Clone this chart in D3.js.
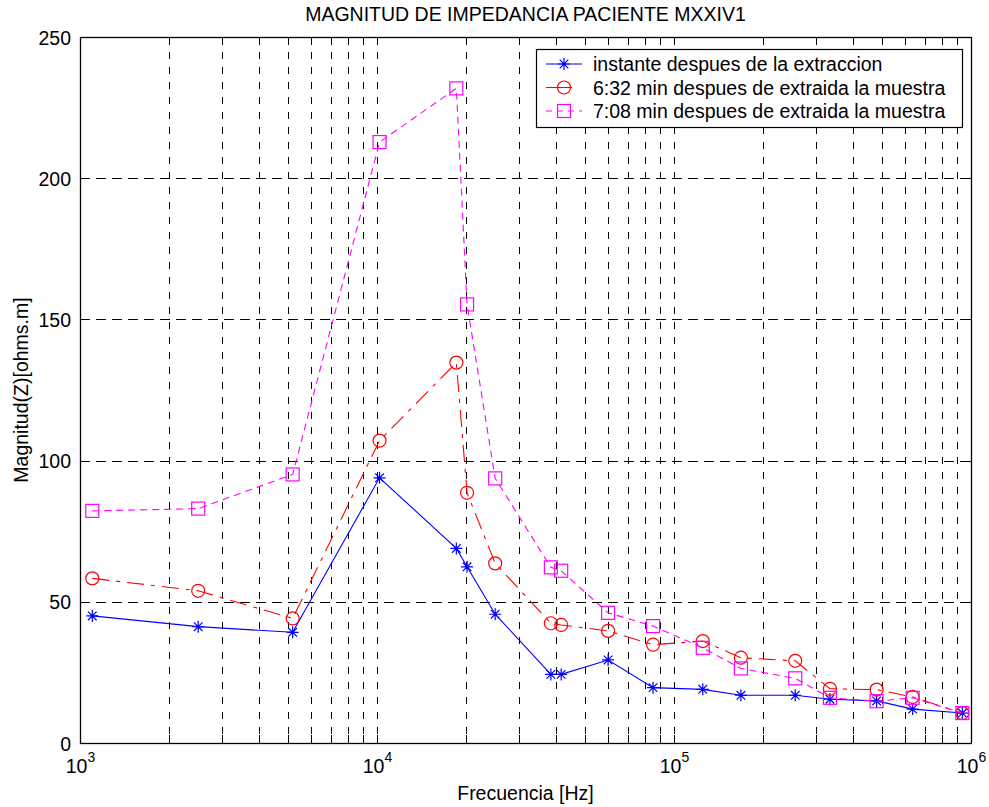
<!DOCTYPE html>
<html>
<head>
<meta charset="utf-8">
<script src="https://cdn.jsdelivr.net/npm/d3@7"></script>
<style>
  html, body { margin: 0; padding: 0; background: #fff; }
  svg { display: block; font-family: "Liberation Sans", Arial, Helvetica, sans-serif; }
</style>
</head>
<body>
<svg id="chart" width="989" height="807"></svg>
<script>
// Measurement frequencies (Hz)
const frequencies = [1100, 2500, 5200, 10200, 18500, 20100, 25000, 38500, 41700,
  60000, 85000, 125000, 168000, 256000, 335000, 481000, 636000, 935000];

// Impedance magnitude (ohms.m) for each sample time
const instante = [45.0, 41.2, 39.2, 93.9, 68.9, 62.4, 45.6, 24.3, 24.3,
  29.4, 19.6, 19.0, 16.9, 16.9, 15.5, 14.9, 12.0, 10.6];
const min632 = [58.3, 53.9, 44.1, 107.1, 134.7, 88.6, 63.6, 42.4, 41.8,
  39.7, 34.8, 36.1, 30.2, 29.1, 19.2, 18.9, 16.3, 10.6];
const min708 = [82.2, 83.0, 95.1, 212.8, 231.8, 155.3, 93.7, 62.2, 61.0,
  46.1, 41.4, 33.7, 26.4, 22.9, 16.0, 14.8, 16.0, 10.6];

const seriesNames = [
  "instante despues de la extraccion",
  "6:32 min despues de extraida la muestra",
  "7:08 min despues de extraida la muestra"
];

const yTicks = [0, 50, 100, 150, 200, 250];
const xMajorExponents = [3, 4, 5, 6];

const titleText = "MAGNITUD DE IMPEDANCIA PACIENTE MXXIV1";
const xLabelText = "Frecuencia [Hz]";
const yLabelText = "Magnitud(Z)[ohms.m]";

// ---- layout ----
const margin = { left: 80, top: 37, right: 18, bottom: 64 };
const W = 989, H = 807;
const plotW = W - margin.left - margin.right;
const plotH = H - margin.top - margin.bottom;
const FONT = 19.5;

const svg = d3.select("#chart");
const g = svg.append("g").attr("transform", `translate(${margin.left},${margin.top})`);

const x = d3.scaleLog().domain([1e3, 1e6]).range([0, plotW]);
const y = d3.scaleLinear().domain([0, 250]).range([plotH, 0]);

// all decade subdivisions (2..9 x 10^k) plus majors
const majorVals = xMajorExponents.map(e => Math.pow(10, e));
const minorVals = [];
for (let e = 3; e < 6; e++) for (let m = 2; m <= 9; m++) minorVals.push(m * Math.pow(10, e));
const allX = majorVals.concat(minorVals);

// ---- grid ----
const grid = g.append("g").attr("stroke", "#000").attr("stroke-width", 1).attr("fill", "none");
grid.selectAll("line.vg").data(allX.filter(v => v > 1e3 && v < 1e6)).join("line")
  .attr("class", "vg")
  .attr("x1", d => Math.round(x(d)) + 0.5).attr("x2", d => Math.round(x(d)) + 0.5)
  .attr("y1", 0).attr("y2", plotH)
  .attr("stroke-dasharray", "7,8");
grid.selectAll("line.hg").data(yTicks.filter(v => v > 0 && v < 250)).join("line")
  .attr("class", "hg")
  .attr("x1", 0).attr("x2", plotW)
  .attr("y1", d => Math.round(y(d)) + 0.5).attr("y2", d => Math.round(y(d)) + 0.5)
  .attr("stroke-dasharray", "10,6");

// ---- axes ----
const xAxis = d3.axisBottom(x).tickValues(majorVals).tickSize(0).tickPadding(0).tickFormat("");
const xg = g.append("g").attr("transform", `translate(0,${plotH})`).call(xAxis);
xg.select(".domain").remove();
xg.selectAll(".tick").each(function(d) {
  const t = d3.select(this).append("text")
    .attr("fill", "#000").attr("y", 30).attr("text-anchor", "middle")
    .style("font-size", FONT + "px");
  t.append("tspan").text("10");
  t.append("tspan").attr("dy", -11).style("font-size", "14px").text(String(Math.round(Math.log10(d))));
});

const yAxis = d3.axisLeft(y).tickValues(yTicks).tickSize(0).tickPadding(9);
const yg = g.append("g").call(yAxis);
yg.select(".domain").remove();
yg.selectAll("text").style("font-size", FONT + "px").attr("fill", "#000").attr("dy", "0.36em");

// inward tick marks on all four sides
const ticks = g.append("g").attr("stroke", "#000").attr("stroke-width", 1);
allX.forEach(v => {
  const px = Math.round(x(v)) + 0.5;
  ticks.append("line").attr("x1", px).attr("x2", px).attr("y1", plotH).attr("y2", plotH - 8);
  ticks.append("line").attr("x1", px).attr("x2", px).attr("y1", 0).attr("y2", 8);
});
yTicks.forEach(v => {
  const py = Math.round(y(v)) + 0.5;
  ticks.append("line").attr("x1", 0).attr("x2", 9).attr("y1", py).attr("y2", py);
  ticks.append("line").attr("x1", plotW).attr("x2", plotW - 9).attr("y1", py).attr("y2", py);
});

// axes box
g.append("rect").attr("x", 0.5).attr("y", 0.5).attr("width", plotW).attr("height", plotH)
  .attr("fill", "none").attr("stroke", "#000").attr("stroke-width", 1.3);

// ---- series ----
const starPath = "M-6,0H6M0,-6V6M-4.3,-4.3L4.3,4.3M-4.3,4.3L4.3,-4.3";
const series = [
  { name: seriesNames[0], values: instante, color: "#0000ff", dash: null, legendDash: null, marker: "star" },
  { name: seriesNames[1], values: min632, color: "#ff0000", dash: "17,7,4,7", legendDash: "26,30", marker: "circle" },
  { name: seriesNames[2], values: min708, color: "#ff00ff", dash: "7,5", legendDash: "6,5", marker: "square" }
];

function drawMarker(sel, type, color) {
  if (type === "star") {
    sel.append("path").attr("d", starPath).attr("stroke", color).attr("stroke-width", 1.2).attr("fill", "none");
  } else if (type === "circle") {
    sel.append("circle").attr("r", 6.5).attr("stroke", color).attr("stroke-width", 1.2).attr("fill", "none");
  } else {
    sel.append("rect").attr("x", -6.5).attr("y", -6.5).attr("width", 13).attr("height", 13)
      .attr("stroke", color).attr("stroke-width", 1.2).attr("fill", "none");
  }
}

const line = d3.line().x(d => x(d[0])).y(d => y(d[1]));

series.forEach(s => {
  const pts = frequencies.map((f, i) => [f, s.values[i]]);
  g.append("path").datum(pts)
    .attr("d", line).attr("fill", "none")
    .attr("stroke", s.color).attr("stroke-width", 1.1)
    .attr("stroke-dasharray", s.dash);
  g.append("g").selectAll("g").data(pts).join("g")
    .attr("transform", d => `translate(${x(d[0])},${y(d[1])})`)
    .each(function() { drawMarker(d3.select(this), s.marker, s.color); });
});

// ---- legend ----
const lg = svg.append("g").attr("transform", "translate(536,49)");
lg.append("rect").attr("x", 0.5).attr("y", 0.5).attr("width", 426).attr("height", 78)
  .attr("fill", "#fff").attr("stroke", "#000").attr("stroke-width", 1.2);
series.forEach((s, i) => {
  const cy = 15 + i * 23.5;
  lg.append("line").attr("x1", 10).attr("x2", 46).attr("y1", cy).attr("y2", cy)
    .attr("stroke", s.color).attr("stroke-width", 1.1)
    .attr("stroke-dasharray", s.legendDash);
  const m = lg.append("g").attr("transform", `translate(28,${cy})`);
  drawMarker(m, s.marker, s.color);
  lg.append("text").attr("x", 57).attr("y", cy + 7)
    .style("font-size", FONT + "px").attr("fill", "#000").text(s.name);
});

// ---- titles ----
svg.append("text").attr("x", margin.left + plotW / 2).attr("y", 21)
  .attr("text-anchor", "middle").style("font-size", FONT + "px").text(titleText);
svg.append("text").attr("x", margin.left + plotW / 2).attr("y", 800)
  .attr("text-anchor", "middle").style("font-size", FONT + "px").text(xLabelText);
svg.append("text").attr("transform", `translate(28,${margin.top + plotH / 2}) rotate(-90)`)
  .attr("text-anchor", "middle").style("font-size", FONT + "px").text(yLabelText);
</script>
</body>
</html>
